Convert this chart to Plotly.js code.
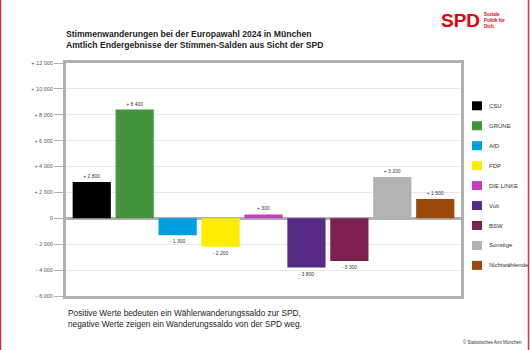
<!DOCTYPE html>
<html><head><meta charset="utf-8">
<script src="https://cdn.plot.ly/plotly-3.0.1.min.js"></script>
<style>html,body{margin:0;padding:0;background:#fff;}#chart{width:530px;height:350px;}</style>
</head><body><div id="chart"></div>
<script>
const categories = ["CSU","GRÜNE","AfD","FDP","DIE LINKE","Volt","BSW","Sonstige","Nichtwählende"];
const values = [2800, 8400, -1300, -2200, 300, -3800, -3300, 3200, 1500];
const valueLabels = ["+ 2 800","+ 8 400","- 1 300","- 2 200","+ 300","- 3 800","- 3 300","+ 3 200","+ 1 500"];
const colors = ["#000000","#43943d","#009ee0","#ffed00","#c040c0","#572a85","#7c2150","#b3b3b3","#9b4a0b"];
const tickVals = [12000,10000,8000,6000,4000,2000,0,-2000,-4000,-6000];
const tickText = ["+ 12 000","+ 10 000","+ 8 000","+ 6 000","+ 4 000","+ 2 000","0","- 2 000","- 4 000","- 6 000"];

const traces = [{
  type:'bar', x:categories, y:values, showlegend:false,
  marker:{color:colors, line:{width:0}},
  text:valueLabels, textposition:'outside', cliponaxis:false,
  textfont:{size:5, color:'#333', family:'Liberation Sans, Arial, sans-serif'},
  hoverinfo:'x+y'
}];

const W=530,H=350,L=66,R=69,T=63,B=54;
const pw=W-L-R, ph=H-T-B;
const px=v=>(v-L)/pw, py=v=>(H-B-v)/ph;

const shapes = [
  {type:'line', xref:'paper', yref:'paper', x0:px(0.5), x1:px(0.5), y0:py(350), y1:py(0), line:{color:'#e03030', width:1.5}},
  {type:'line', xref:'paper', yref:'paper', x0:px(528.5), x1:px(528.5), y0:py(350), y1:py(0), line:{color:'#e03030', width:1.5}}
];
const annotations = [
  {xref:'paper', yref:'paper', x:px(66), y:py(306), xanchor:'left', yanchor:'top', align:'left', showarrow:false,
   text:'Positive Werte bedeuten ein Wählerwanderungssaldo zur SPD,<br>negative Werte zeigen ein Wanderungssaldo von der SPD weg.',
   font:{size:8.3, color:'#222'}},
  {xref:'paper', yref:'paper', x:px(524), y:py(342), xanchor:'right', yanchor:'middle', showarrow:false,
   text:'© Statistisches Amt München', font:{size:4.5, color:'#333'}},
  {xref:'paper', yref:'paper', x:px(439), y:py(21), xanchor:'left', yanchor:'middle', showarrow:false,
   text:'<b>SPD</b>', font:{size:19, color:'#e3000f', family:'Liberation Sans, Arial, sans-serif'}},
  {xref:'paper', yref:'paper', x:px(482), y:py(20), xanchor:'left', yanchor:'middle', align:'left', showarrow:false,
   text:'<b>Soziale<br>Politik für<br>Dich.</b>', font:{size:4.5, color:'#e3000f'}}
];
// legend (drawn from the category/colour arrays)
categories.forEach((c,i)=>{
  const cy = 105.8 + 19.95*i;
  shapes.push({type:'rect', xref:'paper', yref:'paper', x0:px(472), x1:px(482), y0:py(cy-4.5), y1:py(cy+4.5),
               fillcolor:colors[i], line:{width:0}});
  annotations.push({xref:'paper', yref:'paper', x:px(487), y:py(cy), xanchor:'left', yanchor:'middle', showarrow:false,
                    text:c, font:{size:6, color:'#333'}});
});

const layout = {
  width:W, height:H,
  margin:{l:L,r:R,t:T,b:B,autoexpand:false},
  paper_bgcolor:'#fff', plot_bgcolor:'#fff',
  font:{family:'Liberation Sans, Arial, sans-serif', color:'#333'},
  bargap:0.11, showlegend:false,
  title:{text:'<b>Stimmenwanderungen bei der Europawahl 2024 in München</b><br><b>Amtlich Endergebnisse der Stimmen-Salden aus Sicht der SPD</b>',
         x:66/W, xanchor:'left', xref:'container', y:1-37/H, yanchor:'top', yref:'container',
         font:{size:8.6, color:'#222'}},
  xaxis:{type:'category', range:[-0.6,8.6], showticklabels:false, ticks:'', showgrid:false,
         showline:true, mirror:true, linecolor:'#b0b0b0', linewidth:3, zeroline:false, fixedrange:true},
  yaxis:{range:[-6000,12000], tickvals:tickVals, ticktext:tickText, ticks:'outside', ticklen:9,
         tickcolor:'#b0b0b0', tickwidth:1, tickfont:{size:5.5, color:'#555'},
         showgrid:true, gridcolor:'#e8e8e8', gridwidth:1,
         zeroline:true, zerolinecolor:'#b0b0b0', zerolinewidth:3,
         showline:true, mirror:true, linecolor:'#b0b0b0', linewidth:3, fixedrange:true},
  shapes:shapes,
  annotations:annotations
};
Plotly.newPlot('chart', traces, layout, {displayModeBar:false, staticPlot:true});
</script></body></html>
